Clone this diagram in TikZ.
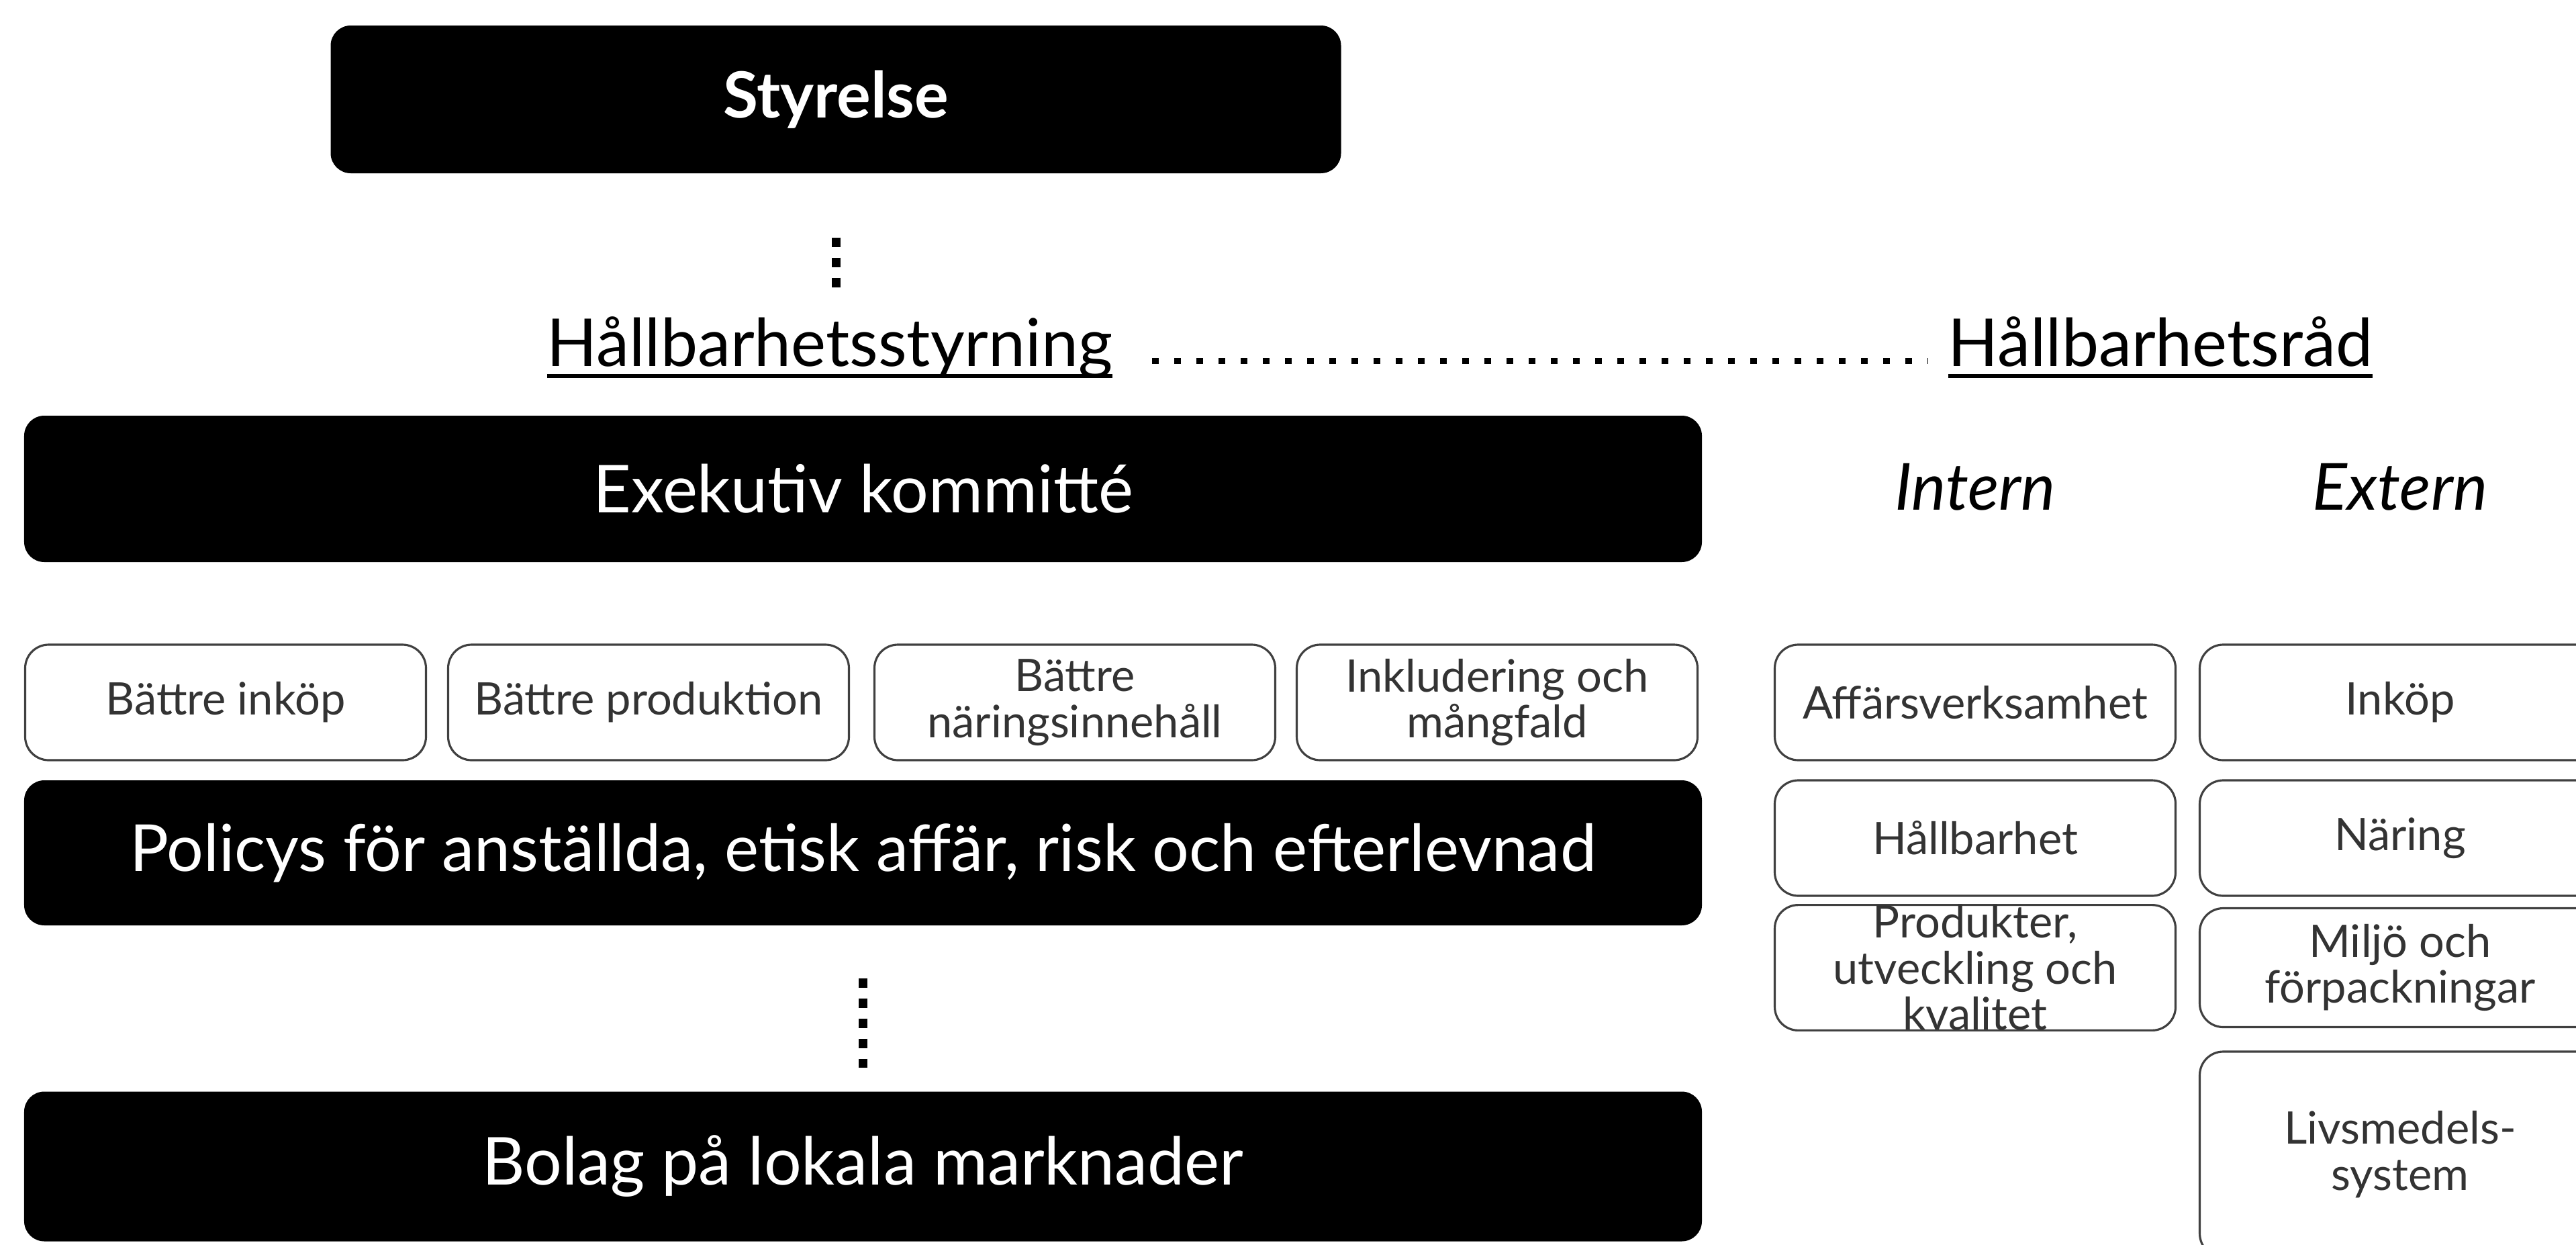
\documentclass[tikz,border=0pt]{standalone}
\usepackage{fontspec}
\setmainfont{Lato}
\newlength{\ulwd}
\newcommand{\thickul}[1]{\settowidth{\ulwd}{#1}\rlap{#1}\rule[-5pt]{\ulwd}{1.7pt}}

\begin{document}
\begin{tikzpicture}[
	blackbox/.style={rectangle, rounded corners=0.3cm, fill=black, text=white, inner sep=0pt, align=center, minimum width=24.99cm, font=\fontsize{28}{31}\selectfont},
	smallbox/.style={rectangle, rounded corners=0.35cm, draw=black!75, line width=0.9pt, fill=white, text=black!80, minimum width=5.97cm, inner sep=0pt, align=center, font=\fontsize{19}{19.5}\selectfont},
	heading/.style={inner sep=0pt, font=\fontsize{28}{31}\selectfont},
	vdots/.style={line width=0.13cm, dash pattern=on 0.14cm off 0.16cm},
	hdots/.style={line width=0.09cm, dash pattern=on 0.1cm off 0.23cm}
]
	\path[use as bounding box, clip] (0,0) rectangle (38.37,-18.53);

	% left column
	\node[blackbox, minimum width=15.05cm, minimum height=2.2cm, font=\bfseries\fontsize{27}{30}\selectfont] (styrelse) at (12.45, -1.48) {Styrelse};
	\node[heading, anchor=base] (hstyr) at (12.36, -5.45) {\thickul{Hållbarhetsstyrning}};
	\node[blackbox, minimum height=2.18cm] (exek) at (12.855, -7.28) {Exekutiv kommitté};

	\node[smallbox, minimum height=1.72cm] (binkop) at (3.36, -10.46) {Bättre inköp};
	\node[smallbox, minimum height=1.72cm] (bprod) at (9.66, -10.46) {Bättre produktion};
	\node[smallbox, minimum height=1.72cm] (bnaring) at (16.01, -10.46) {Bättre\\näringsinnehåll};
	\node[smallbox, minimum height=1.72cm] (inkl) at (22.30, -10.46) {Inkludering och\\mångfald};

	\node[blackbox, minimum height=2.16cm, font=\fontsize{27.5}{30}\selectfont] (policys) at (12.855, -12.70) {Policys för anställda, etisk affär, risk och efterlevnad};
	\node[blackbox, minimum height=2.23cm] (bolag) at (12.855, -17.37) {Bolag på lokala marknader};

	% right column
	\node[heading, anchor=base] (hrad) at (32.18, -5.45) {\thickul{Hållbarhetsråd}};
	\node[heading, font=\itshape\fontsize{27.5}{30}\selectfont] (intern) at (29.42, -7.25) {Intern};
	\node[heading, font=\itshape\fontsize{27.5}{30}\selectfont] (extern) at (35.75, -7.25) {Extern};

	\node[smallbox, minimum height=1.72cm] (affar) at (29.42, -10.46) {Affärsverksamhet};
	\node[smallbox, minimum height=1.72cm] (hallb) at (29.42, -12.48) {Hållbarhet};
	\node[smallbox, minimum height=1.77cm] (produkt) at (29.42, -14.41) {Produkter,\\utveckling och\\kvalitet};

	\node[smallbox, minimum height=1.72cm] (einkop) at (35.75, -10.46) {Inköp};
	\node[smallbox, minimum height=1.72cm] (enaring) at (35.75, -12.48) {Näring};
	\node[smallbox, minimum height=1.77cm] (emiljo) at (35.75, -14.41) {Miljö och\\förpackningar};
	\node[smallbox, minimum height=3.06cm] (elivs) at (35.75, -17.19) {Livsmedels-\\system};

	% dotted links
	\draw[vdots, shorten <=0.95cm, shorten >=0.3cm] (styrelse.south) -- (styrelse.south |- hstyr.north);
	\draw[hdots, shorten <=0.58cm, shorten >=0.29cm] ([yshift=0.08cm]hstyr.base east) -- ([yshift=0.08cm]hrad.base west);
	\draw[vdots, shorten <=0.78cm, shorten >=0.35cm] (policys.south) -- (bolag.north);

\end{tikzpicture}
\end{document}
